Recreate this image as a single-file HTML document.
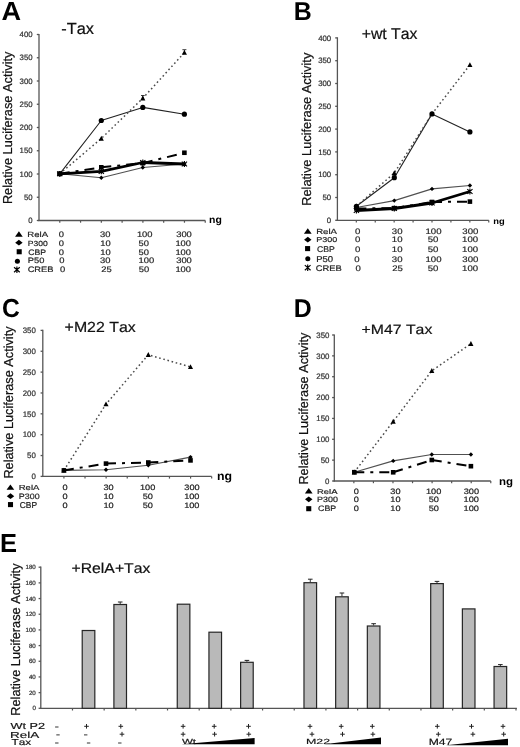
<!DOCTYPE html>
<html><head><meta charset="utf-8"><style>
html,body{margin:0;padding:0;background:#fff;}
body{width:520px;height:747px;overflow:hidden;}
svg{display:block;font-family:"Liberation Sans", sans-serif;font-kerning:none;text-rendering:geometricPrecision;filter:blur(0.4px);}
</style></head><body>
<svg width="520" height="747" viewBox="0 0 520 747">
<rect width="520" height="747" fill="#fff"/>
<text transform="translate(1.49,20.06) scale(1.030,1)" font-size="26.32" font-weight="bold" fill="#000">A</text>
<text transform="translate(61.25,34.34) scale(1.013,1)" font-size="16.14" fill="#111" stroke="#111" stroke-width="0.22">-Tax</text>
<line x1="39.00" y1="33.90" x2="39.00" y2="221.10" stroke="#555" stroke-width="1.3" stroke-linecap="butt"/>
<line x1="36.80" y1="220.50" x2="39.00" y2="220.50" stroke="#555" stroke-width="1.3" stroke-linecap="butt"/>
<text transform="translate(28.24,223.23)" font-size="7.80" fill="#333" stroke="#333" stroke-width="0.22">0</text>
<line x1="36.80" y1="197.25" x2="39.00" y2="197.25" stroke="#555" stroke-width="1.3" stroke-linecap="butt"/>
<text transform="translate(23.91,199.98)" font-size="7.80" fill="#333" stroke="#333" stroke-width="0.22">50</text>
<line x1="36.80" y1="174.00" x2="39.00" y2="174.00" stroke="#555" stroke-width="1.3" stroke-linecap="butt"/>
<text transform="translate(19.57,176.73)" font-size="7.80" fill="#333" stroke="#333" stroke-width="0.22">100</text>
<line x1="36.80" y1="150.75" x2="39.00" y2="150.75" stroke="#555" stroke-width="1.3" stroke-linecap="butt"/>
<text transform="translate(19.57,153.48)" font-size="7.80" fill="#333" stroke="#333" stroke-width="0.22">150</text>
<line x1="36.80" y1="127.50" x2="39.00" y2="127.50" stroke="#555" stroke-width="1.3" stroke-linecap="butt"/>
<text transform="translate(19.57,130.23)" font-size="7.80" fill="#333" stroke="#333" stroke-width="0.22">200</text>
<line x1="36.80" y1="104.25" x2="39.00" y2="104.25" stroke="#555" stroke-width="1.3" stroke-linecap="butt"/>
<text transform="translate(19.57,106.98)" font-size="7.80" fill="#333" stroke="#333" stroke-width="0.22">250</text>
<line x1="36.80" y1="81.00" x2="39.00" y2="81.00" stroke="#555" stroke-width="1.3" stroke-linecap="butt"/>
<text transform="translate(19.57,83.73)" font-size="7.80" fill="#333" stroke="#333" stroke-width="0.22">300</text>
<line x1="36.80" y1="57.75" x2="39.00" y2="57.75" stroke="#555" stroke-width="1.3" stroke-linecap="butt"/>
<text transform="translate(19.57,60.48)" font-size="7.80" fill="#333" stroke="#333" stroke-width="0.22">350</text>
<line x1="36.80" y1="34.50" x2="39.00" y2="34.50" stroke="#555" stroke-width="1.3" stroke-linecap="butt"/>
<text transform="translate(19.57,37.23)" font-size="7.80" fill="#333" stroke="#333" stroke-width="0.22">400</text>
<line x1="38.30" y1="220.50" x2="205.30" y2="220.50" stroke="#555" stroke-width="1.3" stroke-linecap="butt"/>
<line x1="59.78" y1="220.50" x2="59.78" y2="222.70" stroke="#555" stroke-width="1.2" stroke-linecap="butt"/>
<line x1="80.56" y1="220.50" x2="80.56" y2="222.70" stroke="#555" stroke-width="1.2" stroke-linecap="butt"/>
<line x1="101.34" y1="220.50" x2="101.34" y2="222.70" stroke="#555" stroke-width="1.2" stroke-linecap="butt"/>
<line x1="122.12" y1="220.50" x2="122.12" y2="222.70" stroke="#555" stroke-width="1.2" stroke-linecap="butt"/>
<line x1="142.90" y1="220.50" x2="142.90" y2="222.70" stroke="#555" stroke-width="1.2" stroke-linecap="butt"/>
<line x1="163.68" y1="220.50" x2="163.68" y2="222.70" stroke="#555" stroke-width="1.2" stroke-linecap="butt"/>
<line x1="184.46" y1="220.50" x2="184.46" y2="222.70" stroke="#555" stroke-width="1.2" stroke-linecap="butt"/>
<line x1="205.24" y1="220.50" x2="205.24" y2="222.70" stroke="#555" stroke-width="1.2" stroke-linecap="butt"/>
<text transform="translate(209.07,222.60) scale(1.046,1)" font-size="10.00" font-weight="bold" fill="#000">ng</text>
<text transform="translate(11.80,204.12) rotate(-90) scale(0.982,1)" font-size="13.00" fill="#111" stroke="#111" stroke-width="0.22">Relative Luciferase Activity</text>
<polyline points="59.75,173.80 101.30,177.70 142.80,167.50 184.40,164.00" fill="none" stroke="#505050" stroke-width="1.15" stroke-linecap="butt" stroke-linejoin="round"/>
<polyline points="59.75,173.80 101.30,120.50 142.80,107.40 184.40,114.20" fill="none" stroke="#222" stroke-width="1.1" stroke-linecap="butt" stroke-linejoin="round"/>
<polyline points="59.75,173.80 101.30,138.50 142.80,98.30 184.40,52.60" fill="none" stroke="#4a4a4a" stroke-width="1.5" stroke-dasharray="1.6 2.7" stroke-linecap="butt" stroke-linejoin="round"/>
<line x1="59.75" y1="173.80" x2="101.30" y2="167.30" stroke="#000" stroke-width="2.0" stroke-dasharray="10 6 3 6" stroke-linecap="butt"/>
<line x1="101.30" y1="167.30" x2="142.80" y2="163.20" stroke="#000" stroke-width="2.0" stroke-dasharray="10 6 3 6" stroke-linecap="butt"/>
<line x1="142.80" y1="163.20" x2="184.40" y2="152.75" stroke="#000" stroke-width="2.0" stroke-dasharray="10 6 3 6" stroke-linecap="butt"/>
<polyline points="59.75,173.80 101.30,171.40 142.80,162.50 184.40,164.00" fill="none" stroke="#000" stroke-width="2.8" stroke-linecap="butt" stroke-linejoin="round"/>
<polygon points="59.75,171.60 61.95,173.80 59.75,176.00 57.55,173.80" fill="#000"/>
<polygon points="101.30,175.50 103.50,177.70 101.30,179.90 99.10,177.70" fill="#000"/>
<polygon points="142.80,165.30 145.00,167.50 142.80,169.70 140.60,167.50" fill="#000"/>
<polygon points="184.40,161.80 186.60,164.00 184.40,166.20 182.20,164.00" fill="#000"/>
<circle cx="59.75" cy="173.80" r="2.60" fill="#000"/>
<circle cx="101.30" cy="120.50" r="2.60" fill="#000"/>
<circle cx="142.80" cy="107.40" r="2.60" fill="#000"/>
<circle cx="184.40" cy="114.20" r="2.60" fill="#000"/>
<polygon points="57.20,176.01 62.30,176.01 59.75,171.11" fill="#000"/>
<polygon points="98.75,140.71 103.85,140.71 101.30,135.81" fill="#000"/>
<polygon points="140.25,100.50 145.35,100.50 142.80,95.60" fill="#000"/>
<polygon points="181.85,54.80 186.95,54.80 184.40,49.91" fill="#000"/>
<rect x="57.45" y="171.50" width="4.60" height="4.60" fill="#000"/>
<rect x="99.00" y="165.00" width="4.60" height="4.60" fill="#000"/>
<rect x="140.50" y="160.90" width="4.60" height="4.60" fill="#000"/>
<rect x="182.10" y="150.45" width="4.60" height="4.60" fill="#000"/>
<path d="M57.14,171.48L62.36,176.12M62.36,171.48L57.14,176.12M59.75,170.90L59.75,176.70" stroke="#000" stroke-width="1.15" fill="none"/>
<path d="M98.69,169.08L103.91,173.72M103.91,169.08L98.69,173.72M101.30,168.50L101.30,174.30" stroke="#000" stroke-width="1.15" fill="none"/>
<path d="M140.19,160.18L145.41,164.82M145.41,160.18L140.19,164.82M142.80,159.60L142.80,165.40" stroke="#000" stroke-width="1.15" fill="none"/>
<path d="M181.79,161.68L187.01,166.32M187.01,161.68L181.79,166.32M184.40,161.10L184.40,166.90" stroke="#000" stroke-width="1.15" fill="none"/>
<line x1="184.40" y1="50.00" x2="184.40" y2="52.60" stroke="#000" stroke-width="0.8" stroke-linecap="butt"/>
<line x1="182.40" y1="49.70" x2="186.40" y2="49.70" stroke="#222" stroke-width="0.9" stroke-linecap="butt"/>
<line x1="142.80" y1="95.60" x2="142.80" y2="98.30" stroke="#000" stroke-width="0.8" stroke-linecap="butt"/>
<line x1="141.00" y1="95.50" x2="144.70" y2="95.50" stroke="#222" stroke-width="0.9" stroke-linecap="butt"/>
<text transform="translate(27.33,237.32) scale(1.259,1)" font-size="7.64" fill="#222" stroke="#222" stroke-width="0.17">RelA</text>
<polygon points="15.05,236.73 22.75,236.73 18.90,231.34" fill="#000"/>
<text transform="translate(58.63,237.32) scale(1.170,1)" font-size="8.00" fill="#222" stroke="#222" stroke-width="0.19">0</text>
<text transform="translate(100.01,237.32) scale(1.170,1)" font-size="8.00" fill="#222" stroke="#222" stroke-width="0.19">30</text>
<text transform="translate(136.90,237.32) scale(1.170,1)" font-size="8.00" fill="#222" stroke="#222" stroke-width="0.19">100</text>
<text transform="translate(176.19,237.32) scale(1.170,1)" font-size="8.00" fill="#222" stroke="#222" stroke-width="0.19">300</text>
<text transform="translate(27.82,245.68) scale(1.157,1)" font-size="7.39" fill="#222" stroke="#222" stroke-width="0.19">P300</text>
<polygon points="18.90,239.84 22.62,242.70 18.90,245.56 15.18,242.70" fill="#000"/>
<text transform="translate(58.63,245.67) scale(1.170,1)" font-size="8.00" fill="#222" stroke="#222" stroke-width="0.19">0</text>
<text transform="translate(100.20,245.67) scale(1.170,1)" font-size="8.00" fill="#222" stroke="#222" stroke-width="0.19">10</text>
<text transform="translate(138.60,245.67) scale(1.170,1)" font-size="8.00" fill="#222" stroke="#222" stroke-width="0.19">50</text>
<text transform="translate(175.40,245.67) scale(1.170,1)" font-size="8.00" fill="#222" stroke="#222" stroke-width="0.19">100</text>
<text transform="translate(28.32,254.82) scale(1.086,1)" font-size="7.96" fill="#222" stroke="#222" stroke-width="0.20">CBP</text>
<rect x="16.67" y="249.22" width="5.06" height="5.06" fill="#000"/>
<text transform="translate(58.63,254.82) scale(1.170,1)" font-size="8.00" fill="#222" stroke="#222" stroke-width="0.19">0</text>
<text transform="translate(100.20,254.82) scale(1.170,1)" font-size="8.00" fill="#222" stroke="#222" stroke-width="0.19">10</text>
<text transform="translate(138.60,254.82) scale(1.170,1)" font-size="8.00" fill="#222" stroke="#222" stroke-width="0.19">50</text>
<text transform="translate(175.40,254.82) scale(1.170,1)" font-size="8.00" fill="#222" stroke="#222" stroke-width="0.19">100</text>
<text transform="translate(27.75,262.92) scale(1.184,1)" font-size="7.89" fill="#222" stroke="#222" stroke-width="0.19">P50</text>
<circle cx="17.40" cy="261.25" r="2.53" fill="#000"/>
<text transform="translate(59.28,262.92) scale(1.170,1)" font-size="8.00" fill="#222" stroke="#222" stroke-width="0.19">0</text>
<text transform="translate(100.01,262.92) scale(1.170,1)" font-size="8.00" fill="#222" stroke="#222" stroke-width="0.19">30</text>
<text transform="translate(138.60,262.92) scale(1.170,1)" font-size="8.00" fill="#222" stroke="#222" stroke-width="0.19">100</text>
<text transform="translate(176.19,262.92) scale(1.170,1)" font-size="8.00" fill="#222" stroke="#222" stroke-width="0.19">300</text>
<text transform="translate(27.63,271.67) scale(1.172,1)" font-size="7.96" fill="#222" stroke="#222" stroke-width="0.19">CREB</text>
<path d="M14.03,267.20L19.77,272.30M19.77,267.20L14.03,272.30M16.90,266.56L16.90,272.94" stroke="#000" stroke-width="1.15" fill="none"/>
<text transform="translate(59.88,271.67) scale(1.170,1)" font-size="8.00" fill="#222" stroke="#222" stroke-width="0.19">0</text>
<text transform="translate(101.30,271.67) scale(1.170,1)" font-size="8.00" fill="#222" stroke="#222" stroke-width="0.19">25</text>
<text transform="translate(138.80,271.67) scale(1.170,1)" font-size="8.00" fill="#222" stroke="#222" stroke-width="0.19">50</text>
<text transform="translate(175.40,271.67) scale(1.170,1)" font-size="8.00" fill="#222" stroke="#222" stroke-width="0.19">100</text>
<text transform="translate(293.86,19.60) scale(0.971,1)" font-size="25.65" font-weight="bold" fill="#000">B</text>
<text transform="translate(361.71,39.34) scale(1.005,1)" font-size="15.71" fill="#111" stroke="#111" stroke-width="0.22">+wt Tax</text>
<line x1="337.40" y1="37.30" x2="337.40" y2="220.90" stroke="#555" stroke-width="1.3" stroke-linecap="butt"/>
<line x1="335.20" y1="220.30" x2="337.40" y2="220.30" stroke="#555" stroke-width="1.3" stroke-linecap="butt"/>
<text transform="translate(326.84,223.03)" font-size="7.80" fill="#333" stroke="#333" stroke-width="0.22">0</text>
<line x1="335.20" y1="197.50" x2="337.40" y2="197.50" stroke="#555" stroke-width="1.3" stroke-linecap="butt"/>
<text transform="translate(322.51,200.23)" font-size="7.80" fill="#333" stroke="#333" stroke-width="0.22">50</text>
<line x1="335.20" y1="174.70" x2="337.40" y2="174.70" stroke="#555" stroke-width="1.3" stroke-linecap="butt"/>
<text transform="translate(318.17,177.43)" font-size="7.80" fill="#333" stroke="#333" stroke-width="0.22">100</text>
<line x1="335.20" y1="151.90" x2="337.40" y2="151.90" stroke="#555" stroke-width="1.3" stroke-linecap="butt"/>
<text transform="translate(318.17,154.63)" font-size="7.80" fill="#333" stroke="#333" stroke-width="0.22">150</text>
<line x1="335.20" y1="129.10" x2="337.40" y2="129.10" stroke="#555" stroke-width="1.3" stroke-linecap="butt"/>
<text transform="translate(318.17,131.83)" font-size="7.80" fill="#333" stroke="#333" stroke-width="0.22">200</text>
<line x1="335.20" y1="106.30" x2="337.40" y2="106.30" stroke="#555" stroke-width="1.3" stroke-linecap="butt"/>
<text transform="translate(318.17,109.03)" font-size="7.80" fill="#333" stroke="#333" stroke-width="0.22">250</text>
<line x1="335.20" y1="83.50" x2="337.40" y2="83.50" stroke="#555" stroke-width="1.3" stroke-linecap="butt"/>
<text transform="translate(318.17,86.23)" font-size="7.80" fill="#333" stroke="#333" stroke-width="0.22">300</text>
<line x1="335.20" y1="60.70" x2="337.40" y2="60.70" stroke="#555" stroke-width="1.3" stroke-linecap="butt"/>
<text transform="translate(318.17,63.43)" font-size="7.80" fill="#333" stroke="#333" stroke-width="0.22">350</text>
<line x1="335.20" y1="37.90" x2="337.40" y2="37.90" stroke="#555" stroke-width="1.3" stroke-linecap="butt"/>
<text transform="translate(318.17,40.63)" font-size="7.80" fill="#333" stroke="#333" stroke-width="0.22">400</text>
<line x1="336.70" y1="220.30" x2="488.80" y2="220.30" stroke="#555" stroke-width="1.3" stroke-linecap="butt"/>
<line x1="356.32" y1="220.30" x2="356.32" y2="222.50" stroke="#555" stroke-width="1.2" stroke-linecap="butt"/>
<line x1="375.24" y1="220.30" x2="375.24" y2="222.50" stroke="#555" stroke-width="1.2" stroke-linecap="butt"/>
<line x1="394.16" y1="220.30" x2="394.16" y2="222.50" stroke="#555" stroke-width="1.2" stroke-linecap="butt"/>
<line x1="413.08" y1="220.30" x2="413.08" y2="222.50" stroke="#555" stroke-width="1.2" stroke-linecap="butt"/>
<line x1="432.00" y1="220.30" x2="432.00" y2="222.50" stroke="#555" stroke-width="1.2" stroke-linecap="butt"/>
<line x1="450.92" y1="220.30" x2="450.92" y2="222.50" stroke="#555" stroke-width="1.2" stroke-linecap="butt"/>
<line x1="469.84" y1="220.30" x2="469.84" y2="222.50" stroke="#555" stroke-width="1.2" stroke-linecap="butt"/>
<line x1="488.76" y1="220.30" x2="488.76" y2="222.50" stroke="#555" stroke-width="1.2" stroke-linecap="butt"/>
<text transform="translate(493.25,223.81) scale(1.096,1)" font-size="8.53" font-weight="bold" fill="#000">ng</text>
<text transform="translate(310.50,205.83) rotate(-90) scale(0.986,1)" font-size="13.00" fill="#111" stroke="#111" stroke-width="0.22">Relative Luciferase Activity</text>
<polyline points="356.40,207.50 394.30,200.60 432.00,188.90 469.90,185.50" fill="none" stroke="#505050" stroke-width="1.15" stroke-linecap="butt" stroke-linejoin="round"/>
<polyline points="356.40,206.30 394.30,177.70 432.00,113.90 469.90,131.90" fill="none" stroke="#222" stroke-width="1.1" stroke-linecap="butt" stroke-linejoin="round"/>
<polyline points="356.40,206.30 394.30,173.00 432.00,113.90 469.90,64.90" fill="none" stroke="#4a4a4a" stroke-width="1.5" stroke-dasharray="1.6 2.7" stroke-linecap="butt" stroke-linejoin="round"/>
<line x1="356.40" y1="208.50" x2="394.30" y2="208.20" stroke="#000" stroke-width="2.0" stroke-dasharray="10 6 3 6" stroke-linecap="butt"/>
<line x1="394.30" y1="208.20" x2="432.00" y2="202.00" stroke="#000" stroke-width="2.0" stroke-dasharray="10 6 3 6" stroke-linecap="butt"/>
<line x1="432.00" y1="202.00" x2="469.90" y2="201.60" stroke="#000" stroke-width="2.0" stroke-dasharray="10 6 3 6" stroke-linecap="butt"/>
<polyline points="356.40,210.50 394.30,208.50 432.00,203.00 469.90,191.50" fill="none" stroke="#000" stroke-width="2.8" stroke-linecap="butt" stroke-linejoin="round"/>
<polygon points="356.40,205.30 358.60,207.50 356.40,209.70 354.20,207.50" fill="#000"/>
<polygon points="394.30,198.40 396.50,200.60 394.30,202.80 392.10,200.60" fill="#000"/>
<polygon points="432.00,186.70 434.20,188.90 432.00,191.10 429.80,188.90" fill="#000"/>
<polygon points="469.90,183.30 472.10,185.50 469.90,187.70 467.70,185.50" fill="#000"/>
<circle cx="356.40" cy="206.30" r="2.60" fill="#000"/>
<circle cx="394.30" cy="177.70" r="2.60" fill="#000"/>
<circle cx="432.00" cy="113.90" r="2.60" fill="#000"/>
<circle cx="469.90" cy="131.90" r="2.60" fill="#000"/>
<polygon points="353.85,208.51 358.95,208.51 356.40,203.61" fill="#000"/>
<polygon points="391.75,175.21 396.85,175.21 394.30,170.31" fill="#000"/>
<polygon points="429.45,116.11 434.55,116.11 432.00,111.21" fill="#000"/>
<polygon points="467.35,67.11 472.45,67.11 469.90,62.21" fill="#000"/>
<rect x="354.10" y="206.20" width="4.60" height="4.60" fill="#000"/>
<rect x="392.00" y="205.90" width="4.60" height="4.60" fill="#000"/>
<rect x="429.70" y="199.70" width="4.60" height="4.60" fill="#000"/>
<rect x="467.60" y="199.30" width="4.60" height="4.60" fill="#000"/>
<path d="M353.79,208.18L359.01,212.82M359.01,208.18L353.79,212.82M356.40,207.60L356.40,213.40" stroke="#000" stroke-width="1.15" fill="none"/>
<path d="M391.69,206.18L396.91,210.82M396.91,206.18L391.69,210.82M394.30,205.60L394.30,211.40" stroke="#000" stroke-width="1.15" fill="none"/>
<path d="M429.39,200.68L434.61,205.32M434.61,200.68L429.39,205.32M432.00,200.10L432.00,205.90" stroke="#000" stroke-width="1.15" fill="none"/>
<path d="M467.29,189.18L472.51,193.82M472.51,189.18L467.29,193.82M469.90,188.60L469.90,194.40" stroke="#000" stroke-width="1.15" fill="none"/>
<text transform="translate(316.13,233.93) scale(1.294,1)" font-size="7.43" fill="#222" stroke="#222" stroke-width="0.17">RelA</text>
<polygon points="303.95,233.73 311.65,233.73 307.80,228.34" fill="#000"/>
<text transform="translate(355.06,233.92) scale(1.200,1)" font-size="8.00" fill="#222" stroke="#222" stroke-width="0.18">0</text>
<text transform="translate(391.87,233.92) scale(1.200,1)" font-size="8.00" fill="#222" stroke="#222" stroke-width="0.18">30</text>
<text transform="translate(425.49,233.92) scale(1.200,1)" font-size="8.00" fill="#222" stroke="#222" stroke-width="0.18">100</text>
<text transform="translate(462.29,233.92) scale(1.200,1)" font-size="8.00" fill="#222" stroke="#222" stroke-width="0.18">300</text>
<text transform="translate(316.18,242.43) scale(1.279,1)" font-size="7.04" fill="#222" stroke="#222" stroke-width="0.17">P300</text>
<polygon points="307.80,236.84 311.52,239.70 307.80,242.56 304.08,239.70" fill="#000"/>
<text transform="translate(355.06,242.42) scale(1.200,1)" font-size="8.00" fill="#222" stroke="#222" stroke-width="0.18">0</text>
<text transform="translate(391.86,242.42) scale(1.200,1)" font-size="8.00" fill="#222" stroke="#222" stroke-width="0.18">10</text>
<text transform="translate(427.76,242.42) scale(1.200,1)" font-size="8.00" fill="#222" stroke="#222" stroke-width="0.18">50</text>
<text transform="translate(462.09,242.42) scale(1.200,1)" font-size="8.00" fill="#222" stroke="#222" stroke-width="0.18">100</text>
<text transform="translate(317.07,251.82) scale(1.043,1)" font-size="8.31" fill="#222" stroke="#222" stroke-width="0.21">CBP</text>
<rect x="305.07" y="246.07" width="5.06" height="5.06" fill="#000"/>
<text transform="translate(355.06,251.82) scale(1.200,1)" font-size="8.00" fill="#222" stroke="#222" stroke-width="0.18">0</text>
<text transform="translate(391.86,251.82) scale(1.200,1)" font-size="8.00" fill="#222" stroke="#222" stroke-width="0.18">10</text>
<text transform="translate(427.76,251.82) scale(1.200,1)" font-size="8.00" fill="#222" stroke="#222" stroke-width="0.18">50</text>
<text transform="translate(462.09,251.82) scale(1.200,1)" font-size="8.00" fill="#222" stroke="#222" stroke-width="0.18">100</text>
<text transform="translate(316.14,262.42) scale(1.130,1)" font-size="8.45" fill="#222" stroke="#222" stroke-width="0.19">P50</text>
<circle cx="307.80" cy="258.80" r="2.53" fill="#000"/>
<text transform="translate(354.21,262.42) scale(1.200,1)" font-size="8.00" fill="#222" stroke="#222" stroke-width="0.18">0</text>
<text transform="translate(391.87,262.42) scale(1.200,1)" font-size="8.00" fill="#222" stroke="#222" stroke-width="0.18">30</text>
<text transform="translate(425.49,262.42) scale(1.200,1)" font-size="8.00" fill="#222" stroke="#222" stroke-width="0.18">100</text>
<text transform="translate(462.29,262.42) scale(1.200,1)" font-size="8.00" fill="#222" stroke="#222" stroke-width="0.18">300</text>
<text transform="translate(315.78,270.92) scale(1.152,1)" font-size="8.10" fill="#222" stroke="#222" stroke-width="0.19">CREB</text>
<path d="M304.83,265.15L310.57,270.25M310.57,265.15L304.83,270.25M307.70,264.51L307.70,270.89" stroke="#000" stroke-width="1.15" fill="none"/>
<text transform="translate(355.41,270.92) scale(1.200,1)" font-size="8.00" fill="#222" stroke="#222" stroke-width="0.18">0</text>
<text transform="translate(392.16,270.92) scale(1.200,1)" font-size="8.00" fill="#222" stroke="#222" stroke-width="0.18">25</text>
<text transform="translate(427.76,270.92) scale(1.200,1)" font-size="8.00" fill="#222" stroke="#222" stroke-width="0.18">50</text>
<text transform="translate(462.09,270.92) scale(1.200,1)" font-size="8.00" fill="#222" stroke="#222" stroke-width="0.18">100</text>
<text transform="translate(2.12,317.04) scale(0.945,1)" font-size="26.06" font-weight="bold" fill="#000">C</text>
<text transform="translate(64.61,332.35) scale(1.085,1)" font-size="14.65" fill="#111" stroke="#111" stroke-width="0.20">+M22 Tax</text>
<line x1="42.80" y1="329.80" x2="42.80" y2="477.00" stroke="#555" stroke-width="1.3" stroke-linecap="butt"/>
<line x1="40.60" y1="476.40" x2="42.80" y2="476.40" stroke="#555" stroke-width="1.3" stroke-linecap="butt"/>
<text transform="translate(31.49,479.16)" font-size="7.90" fill="#333" stroke="#333" stroke-width="0.22">0</text>
<line x1="40.60" y1="455.54" x2="42.80" y2="455.54" stroke="#555" stroke-width="1.3" stroke-linecap="butt"/>
<text transform="translate(27.10,458.31)" font-size="7.90" fill="#333" stroke="#333" stroke-width="0.22">50</text>
<line x1="40.60" y1="434.69" x2="42.80" y2="434.69" stroke="#555" stroke-width="1.3" stroke-linecap="butt"/>
<text transform="translate(22.71,437.45)" font-size="7.90" fill="#333" stroke="#333" stroke-width="0.22">100</text>
<line x1="40.60" y1="413.83" x2="42.80" y2="413.83" stroke="#555" stroke-width="1.3" stroke-linecap="butt"/>
<text transform="translate(22.71,416.59)" font-size="7.90" fill="#333" stroke="#333" stroke-width="0.22">150</text>
<line x1="40.60" y1="392.97" x2="42.80" y2="392.97" stroke="#555" stroke-width="1.3" stroke-linecap="butt"/>
<text transform="translate(22.71,395.74)" font-size="7.90" fill="#333" stroke="#333" stroke-width="0.22">200</text>
<line x1="40.60" y1="372.11" x2="42.80" y2="372.11" stroke="#555" stroke-width="1.3" stroke-linecap="butt"/>
<text transform="translate(22.71,374.88)" font-size="7.90" fill="#333" stroke="#333" stroke-width="0.22">250</text>
<line x1="40.60" y1="351.26" x2="42.80" y2="351.26" stroke="#555" stroke-width="1.3" stroke-linecap="butt"/>
<text transform="translate(22.71,354.02)" font-size="7.90" fill="#333" stroke="#333" stroke-width="0.22">300</text>
<line x1="40.60" y1="330.40" x2="42.80" y2="330.40" stroke="#555" stroke-width="1.3" stroke-linecap="butt"/>
<text transform="translate(22.71,333.16)" font-size="7.90" fill="#333" stroke="#333" stroke-width="0.22">350</text>
<line x1="42.10" y1="476.40" x2="211.70" y2="476.40" stroke="#555" stroke-width="1.3" stroke-linecap="butt"/>
<line x1="63.91" y1="476.40" x2="63.91" y2="478.60" stroke="#555" stroke-width="1.2" stroke-linecap="butt"/>
<line x1="85.02" y1="476.40" x2="85.02" y2="478.60" stroke="#555" stroke-width="1.2" stroke-linecap="butt"/>
<line x1="106.13" y1="476.40" x2="106.13" y2="478.60" stroke="#555" stroke-width="1.2" stroke-linecap="butt"/>
<line x1="127.24" y1="476.40" x2="127.24" y2="478.60" stroke="#555" stroke-width="1.2" stroke-linecap="butt"/>
<line x1="148.35" y1="476.40" x2="148.35" y2="478.60" stroke="#555" stroke-width="1.2" stroke-linecap="butt"/>
<line x1="169.46" y1="476.40" x2="169.46" y2="478.60" stroke="#555" stroke-width="1.2" stroke-linecap="butt"/>
<line x1="190.57" y1="476.40" x2="190.57" y2="478.60" stroke="#555" stroke-width="1.2" stroke-linecap="butt"/>
<line x1="211.68" y1="476.40" x2="211.68" y2="478.60" stroke="#555" stroke-width="1.2" stroke-linecap="butt"/>
<text transform="translate(216.94,479.51) scale(1.038,1)" font-size="11.87" font-weight="bold" fill="#000">ng</text>
<text transform="translate(12.80,478.62) rotate(-90) scale(0.980,1)" font-size="13.00" fill="#111" stroke="#111" stroke-width="0.22">Relative Luciferase Activity</text>
<polyline points="63.90,470.40 106.00,469.80 148.30,465.20 190.50,457.10" fill="none" stroke="#505050" stroke-width="1.15" stroke-linecap="butt" stroke-linejoin="round"/>
<polyline points="63.90,470.40 106.00,404.10 148.30,354.80 190.50,366.90" fill="none" stroke="#4a4a4a" stroke-width="1.5" stroke-dasharray="1.6 2.7" stroke-linecap="butt" stroke-linejoin="round"/>
<line x1="63.90" y1="470.40" x2="106.00" y2="463.60" stroke="#000" stroke-width="2.0" stroke-dasharray="10 6 3 6" stroke-linecap="butt"/>
<line x1="106.00" y1="463.60" x2="148.30" y2="462.50" stroke="#000" stroke-width="2.0" stroke-dasharray="10 6 3 6" stroke-linecap="butt"/>
<line x1="148.30" y1="462.50" x2="190.50" y2="460.40" stroke="#000" stroke-width="2.0" stroke-dasharray="10 6 3 6" stroke-linecap="butt"/>
<polygon points="63.90,468.20 66.10,470.40 63.90,472.60 61.70,470.40" fill="#000"/>
<polygon points="106.00,467.60 108.20,469.80 106.00,472.00 103.80,469.80" fill="#000"/>
<polygon points="148.30,463.00 150.50,465.20 148.30,467.40 146.10,465.20" fill="#000"/>
<polygon points="190.50,454.90 192.70,457.10 190.50,459.30 188.30,457.10" fill="#000"/>
<polygon points="61.35,472.60 66.45,472.60 63.90,467.70" fill="#000"/>
<polygon points="103.45,406.31 108.55,406.31 106.00,401.41" fill="#000"/>
<polygon points="145.75,357.00 150.85,357.00 148.30,352.11" fill="#000"/>
<polygon points="187.95,369.10 193.05,369.10 190.50,364.20" fill="#000"/>
<rect x="61.60" y="468.10" width="4.60" height="4.60" fill="#000"/>
<rect x="103.70" y="461.30" width="4.60" height="4.60" fill="#000"/>
<rect x="146.00" y="460.20" width="4.60" height="4.60" fill="#000"/>
<rect x="188.20" y="458.10" width="4.60" height="4.60" fill="#000"/>
<text transform="translate(18.74,490.33) scale(1.304,1)" font-size="7.30" fill="#222" stroke="#222" stroke-width="0.17">RelA</text>
<polygon points="6.55,489.83 14.25,489.83 10.40,484.44" fill="#000"/>
<text transform="translate(62.52,490.32) scale(1.180,1)" font-size="7.80" fill="#222" stroke="#222" stroke-width="0.19">0</text>
<text transform="translate(103.49,490.32) scale(1.180,1)" font-size="7.80" fill="#222" stroke="#222" stroke-width="0.19">30</text>
<text transform="translate(139.93,490.32) scale(1.180,1)" font-size="7.80" fill="#222" stroke="#222" stroke-width="0.19">100</text>
<text transform="translate(184.32,490.32) scale(1.180,1)" font-size="7.80" fill="#222" stroke="#222" stroke-width="0.19">300</text>
<text transform="translate(18.79,499.02) scale(1.131,1)" font-size="7.89" fill="#222" stroke="#222" stroke-width="0.19">P300</text>
<polygon points="10.50,493.34 14.22,496.20 10.50,499.06 6.78,496.20" fill="#000"/>
<text transform="translate(62.52,499.02) scale(1.180,1)" font-size="7.80" fill="#222" stroke="#222" stroke-width="0.19">0</text>
<text transform="translate(103.48,499.02) scale(1.180,1)" font-size="7.80" fill="#222" stroke="#222" stroke-width="0.19">10</text>
<text transform="translate(142.68,499.02) scale(1.180,1)" font-size="7.80" fill="#222" stroke="#222" stroke-width="0.19">50</text>
<text transform="translate(184.13,499.02) scale(1.180,1)" font-size="7.80" fill="#222" stroke="#222" stroke-width="0.19">100</text>
<text transform="translate(19.78,508.21) scale(0.979,1)" font-size="8.59" fill="#222" stroke="#222" stroke-width="0.22">CBP</text>
<rect x="7.97" y="502.07" width="5.06" height="5.06" fill="#000"/>
<text transform="translate(62.52,508.22) scale(1.180,1)" font-size="7.80" fill="#222" stroke="#222" stroke-width="0.19">0</text>
<text transform="translate(103.48,508.22) scale(1.180,1)" font-size="7.80" fill="#222" stroke="#222" stroke-width="0.19">10</text>
<text transform="translate(142.68,508.22) scale(1.180,1)" font-size="7.80" fill="#222" stroke="#222" stroke-width="0.19">50</text>
<text transform="translate(184.13,508.22) scale(1.180,1)" font-size="7.80" fill="#222" stroke="#222" stroke-width="0.19">100</text>
<text transform="translate(293.86,317.30) scale(0.971,1)" font-size="25.65" font-weight="bold" fill="#000">D</text>
<text transform="translate(361.61,334.46) scale(1.165,1)" font-size="13.57" fill="#111" stroke="#111" stroke-width="0.19">+M47 Tax</text>
<line x1="334.30" y1="334.40" x2="334.30" y2="481.60" stroke="#555" stroke-width="1.3" stroke-linecap="butt"/>
<line x1="332.10" y1="481.00" x2="334.30" y2="481.00" stroke="#555" stroke-width="1.3" stroke-linecap="butt"/>
<text transform="translate(325.09,483.76)" font-size="7.90" fill="#333" stroke="#333" stroke-width="0.22">0</text>
<line x1="332.10" y1="460.14" x2="334.30" y2="460.14" stroke="#555" stroke-width="1.3" stroke-linecap="butt"/>
<text transform="translate(320.70,462.91)" font-size="7.90" fill="#333" stroke="#333" stroke-width="0.22">50</text>
<line x1="332.10" y1="439.29" x2="334.30" y2="439.29" stroke="#555" stroke-width="1.3" stroke-linecap="butt"/>
<text transform="translate(316.31,442.05)" font-size="7.90" fill="#333" stroke="#333" stroke-width="0.22">100</text>
<line x1="332.10" y1="418.43" x2="334.30" y2="418.43" stroke="#555" stroke-width="1.3" stroke-linecap="butt"/>
<text transform="translate(316.31,421.19)" font-size="7.90" fill="#333" stroke="#333" stroke-width="0.22">150</text>
<line x1="332.10" y1="397.57" x2="334.30" y2="397.57" stroke="#555" stroke-width="1.3" stroke-linecap="butt"/>
<text transform="translate(316.31,400.34)" font-size="7.90" fill="#333" stroke="#333" stroke-width="0.22">200</text>
<line x1="332.10" y1="376.71" x2="334.30" y2="376.71" stroke="#555" stroke-width="1.3" stroke-linecap="butt"/>
<text transform="translate(316.31,379.48)" font-size="7.90" fill="#333" stroke="#333" stroke-width="0.22">250</text>
<line x1="332.10" y1="355.86" x2="334.30" y2="355.86" stroke="#555" stroke-width="1.3" stroke-linecap="butt"/>
<text transform="translate(316.31,358.62)" font-size="7.90" fill="#333" stroke="#333" stroke-width="0.22">300</text>
<line x1="332.10" y1="335.00" x2="334.30" y2="335.00" stroke="#555" stroke-width="1.3" stroke-linecap="butt"/>
<text transform="translate(316.31,337.76)" font-size="7.90" fill="#333" stroke="#333" stroke-width="0.22">350</text>
<line x1="333.60" y1="481.00" x2="490.80" y2="481.00" stroke="#555" stroke-width="1.3" stroke-linecap="butt"/>
<line x1="353.86" y1="481.00" x2="353.86" y2="483.20" stroke="#555" stroke-width="1.2" stroke-linecap="butt"/>
<line x1="373.42" y1="481.00" x2="373.42" y2="483.20" stroke="#555" stroke-width="1.2" stroke-linecap="butt"/>
<line x1="392.98" y1="481.00" x2="392.98" y2="483.20" stroke="#555" stroke-width="1.2" stroke-linecap="butt"/>
<line x1="412.54" y1="481.00" x2="412.54" y2="483.20" stroke="#555" stroke-width="1.2" stroke-linecap="butt"/>
<line x1="432.10" y1="481.00" x2="432.10" y2="483.20" stroke="#555" stroke-width="1.2" stroke-linecap="butt"/>
<line x1="451.66" y1="481.00" x2="451.66" y2="483.20" stroke="#555" stroke-width="1.2" stroke-linecap="butt"/>
<line x1="471.22" y1="481.00" x2="471.22" y2="483.20" stroke="#555" stroke-width="1.2" stroke-linecap="butt"/>
<line x1="490.78" y1="481.00" x2="490.78" y2="483.20" stroke="#555" stroke-width="1.2" stroke-linecap="butt"/>
<text transform="translate(499.00,485.03) scale(1.063,1)" font-size="10.80" font-weight="bold" fill="#000">ng</text>
<text transform="translate(307.90,484.62) rotate(-90) scale(0.979,1)" font-size="13.00" fill="#111" stroke="#111" stroke-width="0.22">Relative Luciferase Activity</text>
<polyline points="354.30,472.20 393.20,460.90 431.80,454.50 470.90,454.50" fill="none" stroke="#505050" stroke-width="1.15" stroke-linecap="butt" stroke-linejoin="round"/>
<polyline points="354.30,472.20 393.20,421.50 431.80,370.80 470.90,343.70" fill="none" stroke="#4a4a4a" stroke-width="1.5" stroke-dasharray="1.6 2.7" stroke-linecap="butt" stroke-linejoin="round"/>
<line x1="354.30" y1="472.20" x2="393.20" y2="472.30" stroke="#000" stroke-width="2.0" stroke-dasharray="10 6 3 6" stroke-linecap="butt"/>
<line x1="393.20" y1="472.30" x2="431.80" y2="460.00" stroke="#000" stroke-width="2.0" stroke-dasharray="10 6 3 6" stroke-linecap="butt"/>
<line x1="431.80" y1="460.00" x2="470.90" y2="466.20" stroke="#000" stroke-width="2.0" stroke-dasharray="10 6 3 6" stroke-linecap="butt"/>
<polygon points="354.30,470.00 356.50,472.20 354.30,474.40 352.10,472.20" fill="#000"/>
<polygon points="393.20,458.70 395.40,460.90 393.20,463.10 391.00,460.90" fill="#000"/>
<polygon points="431.80,452.30 434.00,454.50 431.80,456.70 429.60,454.50" fill="#000"/>
<polygon points="470.90,452.30 473.10,454.50 470.90,456.70 468.70,454.50" fill="#000"/>
<polygon points="351.75,474.40 356.85,474.40 354.30,469.50" fill="#000"/>
<polygon points="390.65,423.70 395.75,423.70 393.20,418.81" fill="#000"/>
<polygon points="429.25,373.00 434.35,373.00 431.80,368.11" fill="#000"/>
<polygon points="468.35,345.90 473.45,345.90 470.90,341.00" fill="#000"/>
<rect x="352.00" y="469.90" width="4.60" height="4.60" fill="#000"/>
<rect x="390.90" y="470.00" width="4.60" height="4.60" fill="#000"/>
<rect x="429.50" y="457.70" width="4.60" height="4.60" fill="#000"/>
<rect x="468.60" y="463.90" width="4.60" height="4.60" fill="#000"/>
<text transform="translate(316.99,493.68) scale(1.405,1)" font-size="6.76" fill="#222" stroke="#222" stroke-width="0.16">RelA</text>
<polygon points="304.90,493.43 312.60,493.43 308.75,488.04" fill="#000"/>
<text transform="translate(353.67,493.67) scale(1.180,1)" font-size="7.80" fill="#222" stroke="#222" stroke-width="0.19">0</text>
<text transform="translate(390.29,493.67) scale(1.180,1)" font-size="7.80" fill="#222" stroke="#222" stroke-width="0.19">30</text>
<text transform="translate(425.93,493.67) scale(1.180,1)" font-size="7.80" fill="#222" stroke="#222" stroke-width="0.19">100</text>
<text transform="translate(463.72,493.67) scale(1.180,1)" font-size="7.80" fill="#222" stroke="#222" stroke-width="0.19">300</text>
<text transform="translate(317.04,502.42) scale(1.170,1)" font-size="7.61" fill="#222" stroke="#222" stroke-width="0.19">P300</text>
<polygon points="308.75,496.44 312.47,499.30 308.75,502.16 305.03,499.30" fill="#000"/>
<text transform="translate(353.67,502.42) scale(1.180,1)" font-size="7.80" fill="#222" stroke="#222" stroke-width="0.19">0</text>
<text transform="translate(390.28,502.42) scale(1.180,1)" font-size="7.80" fill="#222" stroke="#222" stroke-width="0.19">10</text>
<text transform="translate(428.68,502.42) scale(1.180,1)" font-size="7.80" fill="#222" stroke="#222" stroke-width="0.19">50</text>
<text transform="translate(463.53,502.42) scale(1.180,1)" font-size="7.80" fill="#222" stroke="#222" stroke-width="0.19">100</text>
<text transform="translate(318.06,511.42) scale(1.112,1)" font-size="7.89" fill="#222" stroke="#222" stroke-width="0.20">CBP</text>
<rect x="306.22" y="506.17" width="5.06" height="5.06" fill="#000"/>
<text transform="translate(353.67,511.42) scale(1.180,1)" font-size="7.80" fill="#222" stroke="#222" stroke-width="0.19">0</text>
<text transform="translate(390.28,511.42) scale(1.180,1)" font-size="7.80" fill="#222" stroke="#222" stroke-width="0.19">10</text>
<text transform="translate(428.68,511.42) scale(1.180,1)" font-size="7.80" fill="#222" stroke="#222" stroke-width="0.19">50</text>
<text transform="translate(463.53,511.42) scale(1.180,1)" font-size="7.80" fill="#222" stroke="#222" stroke-width="0.19">100</text>
<text transform="translate(0.11,551.90) scale(0.973,1)" font-size="26.23" font-weight="bold" fill="#000">E</text>
<text transform="translate(71.51,572.66) scale(1.111,1)" font-size="14.19" fill="#111" stroke="#111" stroke-width="0.20">+RelA+Tax</text>
<line x1="40.80" y1="566.60" x2="40.80" y2="708.90" stroke="#555" stroke-width="1.3" stroke-linecap="butt"/>
<line x1="38.60" y1="708.30" x2="40.80" y2="708.30" stroke="#555" stroke-width="1.3" stroke-linecap="butt"/>
<text transform="translate(32.38,710.47)" font-size="6.20" fill="#333" stroke="#333" stroke-width="0.22">0</text>
<line x1="38.60" y1="692.62" x2="40.80" y2="692.62" stroke="#555" stroke-width="1.3" stroke-linecap="butt"/>
<text transform="translate(28.93,694.79)" font-size="6.20" fill="#333" stroke="#333" stroke-width="0.22">20</text>
<line x1="38.60" y1="676.94" x2="40.80" y2="676.94" stroke="#555" stroke-width="1.3" stroke-linecap="butt"/>
<text transform="translate(28.93,679.11)" font-size="6.20" fill="#333" stroke="#333" stroke-width="0.22">40</text>
<line x1="38.60" y1="661.27" x2="40.80" y2="661.27" stroke="#555" stroke-width="1.3" stroke-linecap="butt"/>
<text transform="translate(28.93,663.44)" font-size="6.20" fill="#333" stroke="#333" stroke-width="0.22">60</text>
<line x1="38.60" y1="645.59" x2="40.80" y2="645.59" stroke="#555" stroke-width="1.3" stroke-linecap="butt"/>
<text transform="translate(28.93,647.76)" font-size="6.20" fill="#333" stroke="#333" stroke-width="0.22">80</text>
<line x1="38.60" y1="629.91" x2="40.80" y2="629.91" stroke="#555" stroke-width="1.3" stroke-linecap="butt"/>
<text transform="translate(25.48,632.08)" font-size="6.20" fill="#333" stroke="#333" stroke-width="0.22">100</text>
<line x1="38.60" y1="614.23" x2="40.80" y2="614.23" stroke="#555" stroke-width="1.3" stroke-linecap="butt"/>
<text transform="translate(25.48,616.40)" font-size="6.20" fill="#333" stroke="#333" stroke-width="0.22">120</text>
<line x1="38.60" y1="598.56" x2="40.80" y2="598.56" stroke="#555" stroke-width="1.3" stroke-linecap="butt"/>
<text transform="translate(25.48,600.73)" font-size="6.20" fill="#333" stroke="#333" stroke-width="0.22">140</text>
<line x1="38.60" y1="582.88" x2="40.80" y2="582.88" stroke="#555" stroke-width="1.3" stroke-linecap="butt"/>
<text transform="translate(25.48,585.05)" font-size="6.20" fill="#333" stroke="#333" stroke-width="0.22">160</text>
<line x1="38.60" y1="567.20" x2="40.80" y2="567.20" stroke="#555" stroke-width="1.3" stroke-linecap="butt"/>
<text transform="translate(25.48,569.37)" font-size="6.20" fill="#333" stroke="#333" stroke-width="0.22">180</text>
<line x1="40.10" y1="708.30" x2="516.90" y2="708.30" stroke="#555" stroke-width="1.3" stroke-linecap="butt"/>
<line x1="72.48" y1="708.30" x2="72.48" y2="710.50" stroke="#555" stroke-width="1.2" stroke-linecap="butt"/>
<line x1="104.16" y1="708.30" x2="104.16" y2="710.50" stroke="#555" stroke-width="1.2" stroke-linecap="butt"/>
<line x1="135.84" y1="708.30" x2="135.84" y2="710.50" stroke="#555" stroke-width="1.2" stroke-linecap="butt"/>
<line x1="167.52" y1="708.30" x2="167.52" y2="710.50" stroke="#555" stroke-width="1.2" stroke-linecap="butt"/>
<line x1="199.20" y1="708.30" x2="199.20" y2="710.50" stroke="#555" stroke-width="1.2" stroke-linecap="butt"/>
<line x1="230.88" y1="708.30" x2="230.88" y2="710.50" stroke="#555" stroke-width="1.2" stroke-linecap="butt"/>
<line x1="262.56" y1="708.30" x2="262.56" y2="710.50" stroke="#555" stroke-width="1.2" stroke-linecap="butt"/>
<line x1="294.24" y1="708.30" x2="294.24" y2="710.50" stroke="#555" stroke-width="1.2" stroke-linecap="butt"/>
<line x1="325.92" y1="708.30" x2="325.92" y2="710.50" stroke="#555" stroke-width="1.2" stroke-linecap="butt"/>
<line x1="357.60" y1="708.30" x2="357.60" y2="710.50" stroke="#555" stroke-width="1.2" stroke-linecap="butt"/>
<line x1="389.28" y1="708.30" x2="389.28" y2="710.50" stroke="#555" stroke-width="1.2" stroke-linecap="butt"/>
<line x1="420.96" y1="708.30" x2="420.96" y2="710.50" stroke="#555" stroke-width="1.2" stroke-linecap="butt"/>
<line x1="452.64" y1="708.30" x2="452.64" y2="710.50" stroke="#555" stroke-width="1.2" stroke-linecap="butt"/>
<line x1="484.32" y1="708.30" x2="484.32" y2="710.50" stroke="#555" stroke-width="1.2" stroke-linecap="butt"/>
<line x1="516.00" y1="708.30" x2="516.00" y2="710.50" stroke="#555" stroke-width="1.2" stroke-linecap="butt"/>
<text transform="translate(19.90,715.72) rotate(-90) scale(0.980,1)" font-size="13.00" fill="#111" stroke="#111" stroke-width="0.22">Relative Luciferase Activity</text>
<rect x="82.22" y="630.50" width="12.60" height="77.80" fill="#b9b9b9" stroke="#262626" stroke-width="1.2"/>
<line x1="120.20" y1="602.00" x2="120.20" y2="604.00" stroke="#222" stroke-width="0.9" stroke-linecap="butt"/>
<line x1="117.90" y1="602.00" x2="122.50" y2="602.00" stroke="#222" stroke-width="1.0" stroke-linecap="butt"/>
<rect x="113.90" y="604.50" width="12.60" height="103.80" fill="#b9b9b9" stroke="#262626" stroke-width="1.2"/>
<rect x="177.26" y="604.20" width="12.60" height="104.10" fill="#b9b9b9" stroke="#262626" stroke-width="1.2"/>
<rect x="208.94" y="632.20" width="12.60" height="76.10" fill="#b9b9b9" stroke="#262626" stroke-width="1.2"/>
<line x1="246.92" y1="660.40" x2="246.92" y2="661.80" stroke="#222" stroke-width="0.9" stroke-linecap="butt"/>
<line x1="244.62" y1="660.40" x2="249.22" y2="660.40" stroke="#222" stroke-width="1.0" stroke-linecap="butt"/>
<rect x="240.62" y="662.30" width="12.60" height="46.00" fill="#b9b9b9" stroke="#262626" stroke-width="1.2"/>
<line x1="310.28" y1="579.20" x2="310.28" y2="582.20" stroke="#222" stroke-width="0.9" stroke-linecap="butt"/>
<line x1="307.98" y1="579.20" x2="312.58" y2="579.20" stroke="#222" stroke-width="1.0" stroke-linecap="butt"/>
<rect x="303.98" y="582.70" width="12.60" height="125.60" fill="#b9b9b9" stroke="#262626" stroke-width="1.2"/>
<line x1="341.96" y1="593.00" x2="341.96" y2="596.30" stroke="#222" stroke-width="0.9" stroke-linecap="butt"/>
<line x1="339.66" y1="593.00" x2="344.26" y2="593.00" stroke="#222" stroke-width="1.0" stroke-linecap="butt"/>
<rect x="335.66" y="596.80" width="12.60" height="111.50" fill="#b9b9b9" stroke="#262626" stroke-width="1.2"/>
<line x1="373.64" y1="623.70" x2="373.64" y2="625.50" stroke="#222" stroke-width="0.9" stroke-linecap="butt"/>
<line x1="371.34" y1="623.70" x2="375.94" y2="623.70" stroke="#222" stroke-width="1.0" stroke-linecap="butt"/>
<rect x="367.34" y="626.00" width="12.60" height="82.30" fill="#b9b9b9" stroke="#262626" stroke-width="1.2"/>
<line x1="437.00" y1="581.40" x2="437.00" y2="583.10" stroke="#222" stroke-width="0.9" stroke-linecap="butt"/>
<line x1="434.70" y1="581.40" x2="439.30" y2="581.40" stroke="#222" stroke-width="1.0" stroke-linecap="butt"/>
<rect x="430.70" y="583.60" width="12.60" height="124.70" fill="#b9b9b9" stroke="#262626" stroke-width="1.2"/>
<rect x="462.38" y="608.90" width="12.60" height="99.40" fill="#b9b9b9" stroke="#262626" stroke-width="1.2"/>
<line x1="500.36" y1="664.60" x2="500.36" y2="666.00" stroke="#222" stroke-width="0.9" stroke-linecap="butt"/>
<line x1="498.06" y1="664.60" x2="502.66" y2="664.60" stroke="#222" stroke-width="1.0" stroke-linecap="butt"/>
<rect x="494.06" y="666.50" width="12.60" height="41.80" fill="#b9b9b9" stroke="#262626" stroke-width="1.2"/>
<text transform="translate(10.47,729.31) scale(1.455,1)" font-size="8.73" fill="#111" stroke="#111" stroke-width="0.15">Wt P2</text>
<text transform="translate(10.02,737.91) scale(1.538,1)" font-size="8.78" fill="#111" stroke="#111" stroke-width="0.14">RelA</text>
<text transform="translate(11.56,744.91) scale(1.381,1)" font-size="8.57" fill="#111" stroke="#111" stroke-width="0.16">Tax</text>
<line x1="55.10" y1="727.00" x2="58.50" y2="727.00" stroke="#333" stroke-width="1.0" stroke-linecap="butt"/>
<line x1="84.20" y1="726.30" x2="88.80" y2="726.30" stroke="#222" stroke-width="1.0" stroke-linecap="butt"/>
<line x1="86.50" y1="724.00" x2="86.50" y2="728.60" stroke="#222" stroke-width="1.0" stroke-linecap="butt"/>
<line x1="118.50" y1="726.30" x2="123.10" y2="726.30" stroke="#222" stroke-width="1.0" stroke-linecap="butt"/>
<line x1="120.80" y1="724.00" x2="120.80" y2="728.60" stroke="#222" stroke-width="1.0" stroke-linecap="butt"/>
<line x1="180.80" y1="726.30" x2="185.40" y2="726.30" stroke="#222" stroke-width="1.0" stroke-linecap="butt"/>
<line x1="183.10" y1="724.00" x2="183.10" y2="728.60" stroke="#222" stroke-width="1.0" stroke-linecap="butt"/>
<line x1="211.90" y1="726.30" x2="216.50" y2="726.30" stroke="#222" stroke-width="1.0" stroke-linecap="butt"/>
<line x1="214.20" y1="724.00" x2="214.20" y2="728.60" stroke="#222" stroke-width="1.0" stroke-linecap="butt"/>
<line x1="246.20" y1="726.30" x2="250.80" y2="726.30" stroke="#222" stroke-width="1.0" stroke-linecap="butt"/>
<line x1="248.50" y1="724.00" x2="248.50" y2="728.60" stroke="#222" stroke-width="1.0" stroke-linecap="butt"/>
<line x1="307.70" y1="726.30" x2="312.30" y2="726.30" stroke="#222" stroke-width="1.0" stroke-linecap="butt"/>
<line x1="310.00" y1="724.00" x2="310.00" y2="728.60" stroke="#222" stroke-width="1.0" stroke-linecap="butt"/>
<line x1="338.90" y1="726.30" x2="343.50" y2="726.30" stroke="#222" stroke-width="1.0" stroke-linecap="butt"/>
<line x1="341.20" y1="724.00" x2="341.20" y2="728.60" stroke="#222" stroke-width="1.0" stroke-linecap="butt"/>
<line x1="370.00" y1="726.30" x2="374.60" y2="726.30" stroke="#222" stroke-width="1.0" stroke-linecap="butt"/>
<line x1="372.30" y1="724.00" x2="372.30" y2="728.60" stroke="#222" stroke-width="1.0" stroke-linecap="butt"/>
<line x1="435.00" y1="726.30" x2="439.60" y2="726.30" stroke="#222" stroke-width="1.0" stroke-linecap="butt"/>
<line x1="437.30" y1="724.00" x2="437.30" y2="728.60" stroke="#222" stroke-width="1.0" stroke-linecap="butt"/>
<line x1="469.20" y1="726.30" x2="473.80" y2="726.30" stroke="#222" stroke-width="1.0" stroke-linecap="butt"/>
<line x1="471.50" y1="724.00" x2="471.50" y2="728.60" stroke="#222" stroke-width="1.0" stroke-linecap="butt"/>
<line x1="500.70" y1="726.30" x2="505.30" y2="726.30" stroke="#222" stroke-width="1.0" stroke-linecap="butt"/>
<line x1="503.00" y1="724.00" x2="503.00" y2="728.60" stroke="#222" stroke-width="1.0" stroke-linecap="butt"/>
<line x1="56.30" y1="734.90" x2="59.70" y2="734.90" stroke="#333" stroke-width="1.0" stroke-linecap="butt"/>
<line x1="84.00" y1="734.90" x2="87.40" y2="734.90" stroke="#333" stroke-width="1.0" stroke-linecap="butt"/>
<line x1="119.70" y1="734.20" x2="124.30" y2="734.20" stroke="#222" stroke-width="1.0" stroke-linecap="butt"/>
<line x1="122.00" y1="731.90" x2="122.00" y2="736.50" stroke="#222" stroke-width="1.0" stroke-linecap="butt"/>
<line x1="180.80" y1="734.20" x2="185.40" y2="734.20" stroke="#222" stroke-width="1.0" stroke-linecap="butt"/>
<line x1="183.10" y1="731.90" x2="183.10" y2="736.50" stroke="#222" stroke-width="1.0" stroke-linecap="butt"/>
<line x1="212.30" y1="734.20" x2="216.90" y2="734.20" stroke="#222" stroke-width="1.0" stroke-linecap="butt"/>
<line x1="214.60" y1="731.90" x2="214.60" y2="736.50" stroke="#222" stroke-width="1.0" stroke-linecap="butt"/>
<line x1="246.50" y1="734.20" x2="251.10" y2="734.20" stroke="#222" stroke-width="1.0" stroke-linecap="butt"/>
<line x1="248.80" y1="731.90" x2="248.80" y2="736.50" stroke="#222" stroke-width="1.0" stroke-linecap="butt"/>
<line x1="309.70" y1="734.20" x2="314.30" y2="734.20" stroke="#222" stroke-width="1.0" stroke-linecap="butt"/>
<line x1="312.00" y1="731.90" x2="312.00" y2="736.50" stroke="#222" stroke-width="1.0" stroke-linecap="butt"/>
<line x1="340.20" y1="734.20" x2="344.80" y2="734.20" stroke="#222" stroke-width="1.0" stroke-linecap="butt"/>
<line x1="342.50" y1="731.90" x2="342.50" y2="736.50" stroke="#222" stroke-width="1.0" stroke-linecap="butt"/>
<line x1="370.60" y1="734.20" x2="375.20" y2="734.20" stroke="#222" stroke-width="1.0" stroke-linecap="butt"/>
<line x1="372.90" y1="731.90" x2="372.90" y2="736.50" stroke="#222" stroke-width="1.0" stroke-linecap="butt"/>
<line x1="436.00" y1="734.20" x2="440.60" y2="734.20" stroke="#222" stroke-width="1.0" stroke-linecap="butt"/>
<line x1="438.30" y1="731.90" x2="438.30" y2="736.50" stroke="#222" stroke-width="1.0" stroke-linecap="butt"/>
<line x1="470.60" y1="734.20" x2="475.20" y2="734.20" stroke="#222" stroke-width="1.0" stroke-linecap="butt"/>
<line x1="472.90" y1="731.90" x2="472.90" y2="736.50" stroke="#222" stroke-width="1.0" stroke-linecap="butt"/>
<line x1="501.40" y1="734.20" x2="506.00" y2="734.20" stroke="#222" stroke-width="1.0" stroke-linecap="butt"/>
<line x1="503.70" y1="731.90" x2="503.70" y2="736.50" stroke="#222" stroke-width="1.0" stroke-linecap="butt"/>
<line x1="55.10" y1="743.00" x2="58.50" y2="743.00" stroke="#333" stroke-width="1.0" stroke-linecap="butt"/>
<line x1="86.90" y1="743.00" x2="90.30" y2="743.00" stroke="#333" stroke-width="1.0" stroke-linecap="butt"/>
<line x1="118.10" y1="743.00" x2="121.50" y2="743.00" stroke="#333" stroke-width="1.0" stroke-linecap="butt"/>
<polygon points="181.20,744.30 254.60,744.30 254.60,737.90" fill="#000"/>
<polygon points="323.80,744.30 381.00,744.30 381.00,737.50" fill="#000"/>
<polygon points="446.00,745.20 508.00,745.20 508.00,738.80" fill="#000"/>
<text transform="translate(181.88,743.93) scale(1.558,1)" font-size="7.43" fill="#111" stroke="#111" stroke-width="0.14">Wt</text>
<text transform="translate(305.90,744.00) scale(1.679,1)" font-size="7.43" fill="#111" stroke="#111" stroke-width="0.13">M22</text>
<text transform="translate(428.63,745.00) scale(1.351,1)" font-size="8.99" fill="#111" stroke="#111" stroke-width="0.16">M47</text>
</svg>
</body></html>
